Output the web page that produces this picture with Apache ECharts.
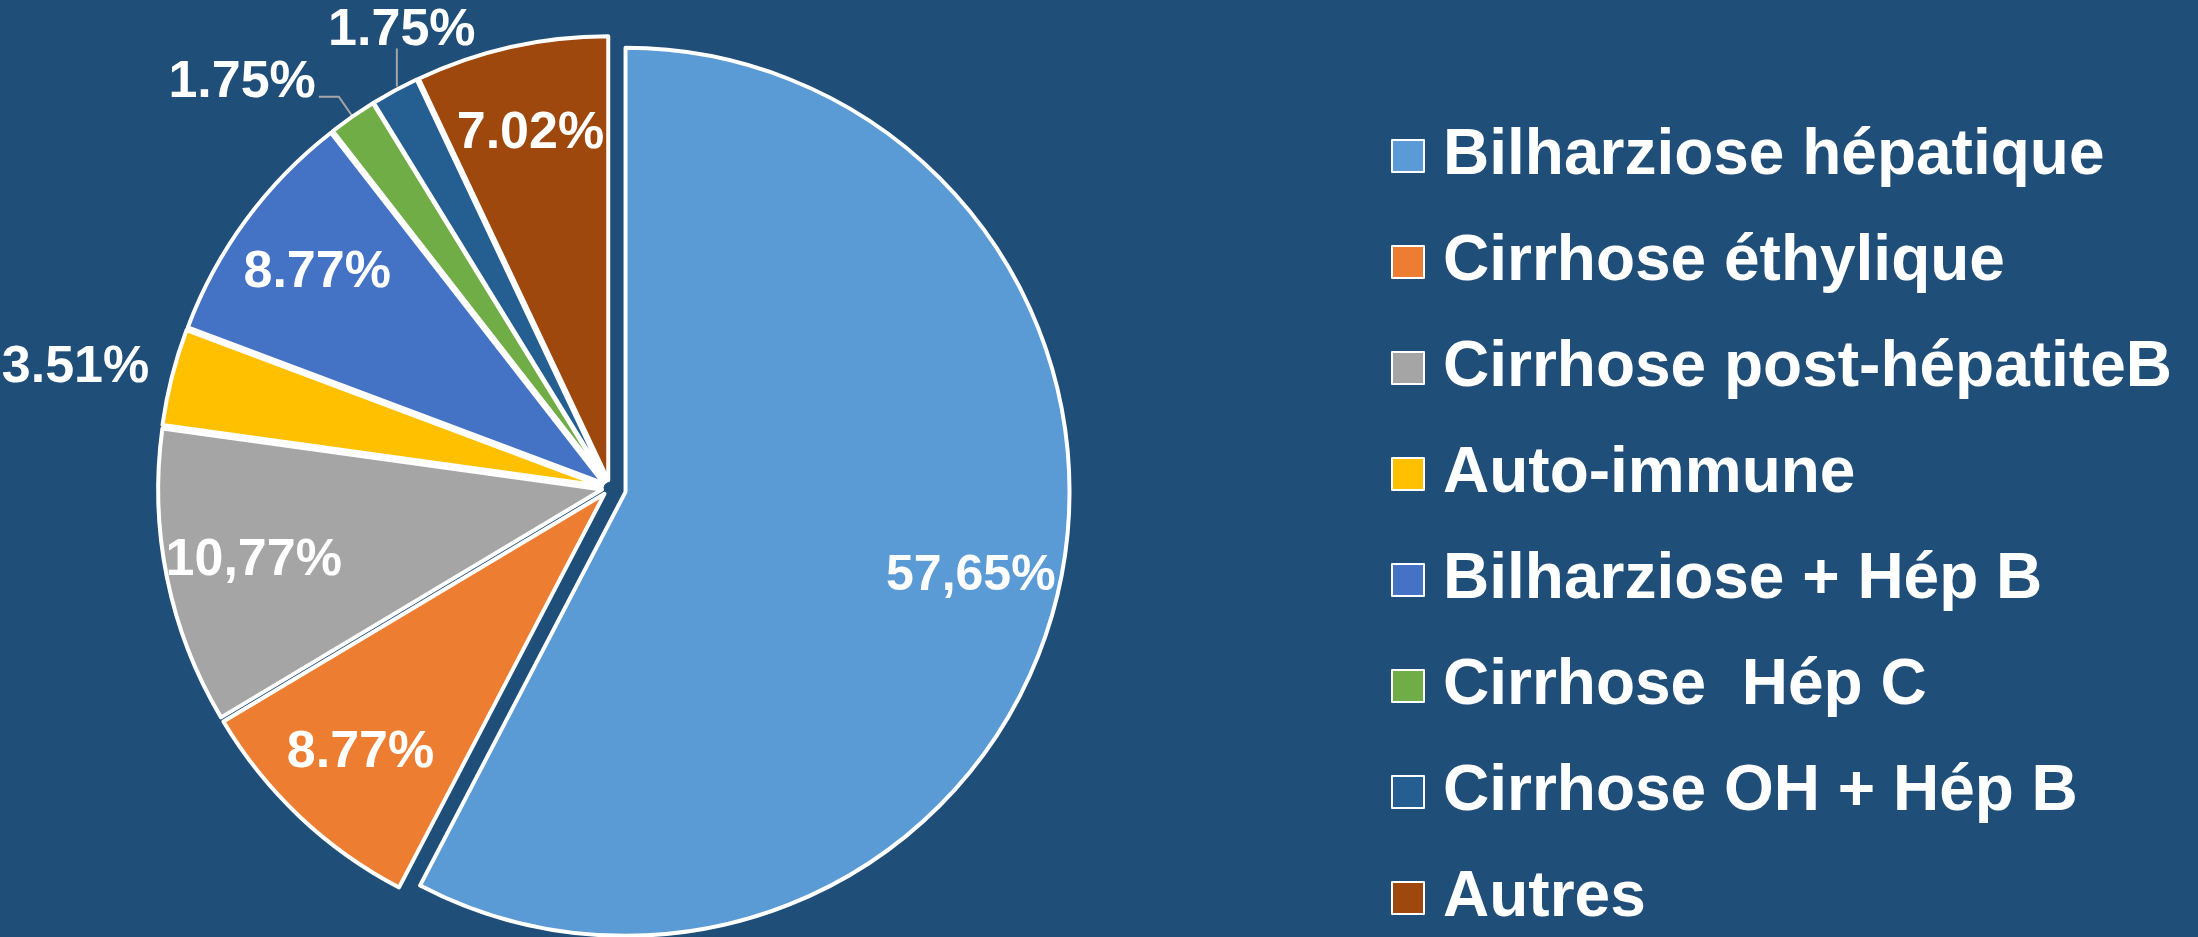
<!DOCTYPE html>
<html>
<head>
<meta charset="utf-8">
<style>
  html, body { margin: 0; padding: 0; background: #1F4E79; }
  #chart { width: 2198px; height: 937px; }
</style>
<script src="https://cdn.jsdelivr.net/npm/echarts@6/dist/echarts.min.js"></script>
</head>
<body>
<div id="chart"></div>
<script>
const causes = ['Bilharziose hépatique', 'Cirrhose éthylique', 'Cirrhose post-hépatiteB', 'Auto-immune',
  'Bilharziose + Hép B', 'Cirrhose  Hép C', 'Cirrhose OH + Hép B', 'Autres']
const shares = [57.65, 8.77, 10.77, 3.51, 8.77, 1.75, 1.75, 7.02]
const shareLabels = ['57,65%', '8.77%', '10,77%', '3.51%', '8.77%', '1.75%', '1.75%', '7.02%']
const colors = ['#5B9BD5', '#ED7D31', '#A5A5A5', '#FFC000', '#4472C4', '#70AD47', '#255E91', '#9E480E']

const center = [610, 488]
const radius = 444
const labelFont = "'Liberation Sans', Arial, sans-serif"

// slices whose value sits outside, with a leader line or without
const outsideLabels = {
  3: { length: 12, length2: 8, line: false },
  5: { length: 24, length2: 20, line: true },
  6: { length: 10, length2: 0, line: true }
}

// inside labels sit at about 0.8 of the radius instead of 0.5
const pushOut = params => {
  const r = params.labelRect
  const lx = r.x + r.width / 2
  const ly = r.y + r.height / 2
  return { dx: (lx - center[0]) * 0.58, dy: (ly - center[1]) * 0.58 }
}

const hidden = (v, i) => ({
  name: causes[i], value: v,
  itemStyle: { color: 'rgba(0,0,0,0)', borderWidth: 0 },
  label: { show: false }, labelLine: { show: false }
})

const bigData = shares.map((v, i) => i === 0 ? {
  name: causes[i], value: v, selected: true,
  itemStyle: { color: colors[i] },
  label: { show: true, formatter: shareLabels[i] }
} : hidden(v, i))

const smallData = shares.map((v, i) => {
  if (i === 0) return hidden(v, i)
  const item = { name: causes[i], value: v, selected: true, itemStyle: { color: colors[i] } }
  const o = outsideLabels[i]
  if (o) {
    item.label = { show: true, position: 'outside', formatter: shareLabels[i] }
    item.labelLine = { show: o.line, length: o.length, length2: o.length2 }
  } else {
    item.label = { show: true, position: 'inside', formatter: shareLabels[i] }
  }
  return item
})

var myChart = echarts.init(document.getElementById('chart'))

const option = {
  backgroundColor: '#1F4E79',
  animation: false,
  legend: {
    orient: 'vertical',
    left: 1386,
    top: 119,
    itemWidth: 32,
    itemHeight: 32,
    itemGap: 42,
    textStyle: {
      color: '#fff', fontSize: 64, fontWeight: 'bold',
      fontFamily: labelFont, padding: [0, 0, 0, 14]
    },
    data: causes.map((n, i) => ({
      name: n,
      icon: 'rect',
      itemStyle: { color: colors[i], borderColor: '#fff', borderWidth: 2 }
    }))
  },
  series: [
    {
      type: 'pie',
      center: center,
      radius: [0, radius],
      startAngle: 90,
      clockwise: true,
      selectedMode: 'multiple',
      selectedOffset: 16,
      avoidLabelOverlap: false,
      itemStyle: { borderColor: '#fff', borderWidth: 4 },
      emphasis: { disabled: true },
      label: {
        position: 'inside', color: '#fff', fontSize: 50, fontWeight: 'bold',
        fontFamily: labelFont
      },
      labelLayout: pushOut,
      data: bigData
    },
    {
      type: 'pie',
      center: center,
      radius: [0, radius],
      startAngle: 90,
      clockwise: true,
      selectedMode: 'multiple',
      selectedOffset: 8,
      avoidLabelOverlap: false,
      itemStyle: { borderColor: '#fff', borderWidth: 4 },
      emphasis: { disabled: true },
      label: {
        color: '#fff', fontSize: 52, fontWeight: 'bold', fontFamily: labelFont,
        distanceToLabelLine: 3
      },
      labelLine: { lineStyle: { color: '#A6A6A6', width: 2 } },
      labelLayout: params => {
        const i = params.dataIndex
        if (i === 6 && params.labelLinePoints) {
          // vertical leader going straight up, value centred above it
          const p0 = params.labelLinePoints[0]
          const r = params.labelRect
          const lineTop = p0[1] - 42
          return {
            align: 'center', verticalAlign: 'bottom',
            dx: p0[0] + 7 - (r.x + r.width),
            dy: lineTop + 8 - (r.y + r.height / 2),
            labelLinePoints: [[p0[0] + 2, p0[1] - 4], [p0[0] + 2, lineTop], [p0[0] + 2, lineTop]]
          }
        }
        if (i === 5) return { verticalAlign: 'bottom', dy: 12 }
        if (i === 3) return { dy: -6 }
        if (outsideLabels[i]) return {}
        return pushOut(params)
      },
      data: smallData
    }
  ]
}

myChart.setOption(option)

window.addEventListener('resize', () => {
  myChart.resize()
})
</script>
</body>
</html>
